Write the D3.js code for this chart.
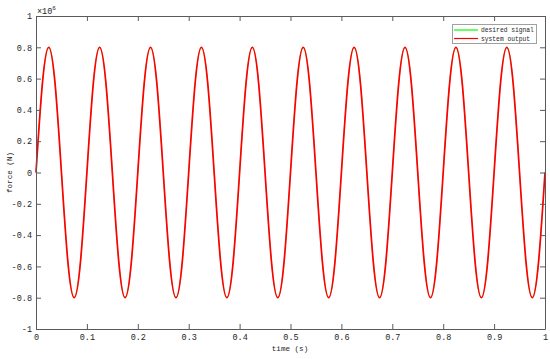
<!DOCTYPE html>
<html><head><meta charset="utf-8">
<script src="https://cdn.jsdelivr.net/npm/d3@7"></script>
<style>html,body{margin:0;padding:0;background:#fff;}svg{display:block;}</style>
</head><body><svg id="c" width="550" height="359"></svg>
<script>
// time samples (s)
const time = [0,0.0125,0.025,0.0375,0.05,0.0625,0.075,0.0875,0.1,0.1125,0.125,0.1375,0.15,0.1625,0.175,0.1875,0.2,0.2125,0.225,0.2375,0.25,0.2625,0.275,0.2875,0.3,0.3125,0.325,0.3375,0.35,0.3625,0.375,0.3875,0.4,0.4125,0.425,0.4375,0.45,0.4625,0.475,0.4875,0.5,0.5125,0.525,0.5375,0.55,0.5625,0.575,0.5875,0.6,0.6125,0.625,0.6375,0.65,0.6625,0.675,0.6875,0.7,0.7125,0.725,0.7375,0.75,0.7625,0.775,0.7875,0.8,0.8125,0.825,0.8375,0.85,0.8625,0.875,0.8875,0.9,0.9125,0.925,0.9375,0.95,0.9625,0.975,0.9875,1];
// force values (N)
const desiredSignal = [0,566000,800000,566000,0,-566000,-800000,-566000,0,566000,800000,566000,0,-566000,-800000,-566000,0,566000,800000,566000,0,-566000,-800000,-566000,0,566000,800000,566000,0,-566000,-800000,-566000,0,566000,800000,566000,0,-566000,-800000,-566000,0,566000,800000,566000,0,-566000,-800000,-566000,0,566000,800000,566000,0,-566000,-800000,-566000,0,566000,800000,566000,0,-566000,-800000,-566000,0,566000,800000,566000,0,-566000,-800000,-566000,0,566000,800000,566000,0,-566000,-800000,-566000,0];
const systemOutput = [0,566000,800000,566000,0,-566000,-800000,-566000,0,566000,800000,566000,0,-566000,-800000,-566000,0,566000,800000,566000,0,-566000,-800000,-566000,0,566000,800000,566000,0,-566000,-800000,-566000,0,566000,800000,566000,0,-566000,-800000,-566000,0,566000,800000,566000,0,-566000,-800000,-566000,0,566000,800000,566000,0,-566000,-800000,-566000,0,566000,800000,566000,0,-566000,-800000,-566000,0,566000,800000,566000,0,-566000,-800000,-566000,0,566000,800000,566000,0,-566000,-800000,-566000,0];
const xTicks = [0,0.1,0.2,0.3,0.4,0.5,0.6,0.7,0.8,0.9,1];
const xTickLabels = ["0","0.1","0.2","0.3","0.4","0.5","0.6","0.7","0.8","0.9","1"];
const yTicks = [-1e6,-0.8e6,-0.6e6,-0.4e6,-0.2e6,0,0.2e6,0.4e6,0.6e6,0.8e6,1e6];
const yTickLabels = ["-1","-0.8","-0.6","-0.4","-0.2","0","0.2","0.4","0.6","0.8","1"];
const seriesNames = ["desired signal","system output"];
const seriesColors = ["#00ff00","#ff0000"];

(function(){
const svg = d3.select("#c");
const L = 36, R = 545, T = 16, B = 329;
const x = d3.scaleLinear().domain([0,1]).range([L,R]);
const y = d3.scaleLinear().domain([-1e6,1e6]).range([B,T]);
const axisColor = "#5a5a5a";
const font = "'Liberation Mono', 'DejaVu Sans Mono', monospace";

const line = d3.line().x((d,i)=>x(time[i])).y(d=>y(d)).curve(d3.curveNatural);
const g = svg.append("g");
g.append("path").datum(desiredSignal).attr("d",line).attr("fill","none").attr("stroke",seriesColors[0]).attr("stroke-width",0.6);
g.append("path").datum(systemOutput).attr("d",line).attr("fill","none").attr("stroke",seriesColors[1]).attr("stroke-width",1.7);

const tl = 5;
const fmtX = (d,i)=>xTickLabels[i];
const fmtY = (d,i)=>yTickLabels[i];
const axB = svg.append("g").attr("transform",`translate(0,${B})`)
  .call(d3.axisBottom(x).tickValues(xTicks).tickFormat(fmtX).tickSizeInner(-tl).tickSizeOuter(0).tickPadding(5));
const axT = svg.append("g").attr("transform",`translate(0,${T})`)
  .call(d3.axisTop(x).tickValues(xTicks).tickFormat("").tickSizeInner(-tl).tickSizeOuter(0));
const axL = svg.append("g").attr("transform",`translate(${L},0)`)
  .call(d3.axisLeft(y).tickValues(yTicks).tickFormat(fmtY).tickSizeInner(-tl).tickSizeOuter(0).tickPadding(4));
const axR = svg.append("g").attr("transform",`translate(${R},0)`)
  .call(d3.axisRight(y).tickValues(yTicks).tickFormat("").tickSizeInner(-tl).tickSizeOuter(0));
[axB,axT,axL,axR].forEach(a=>{
  a.selectAll("path").attr("stroke",axisColor).attr("stroke-width",1);
  a.selectAll("line").attr("stroke",axisColor).attr("stroke-width",1);
  a.selectAll("text").attr("fill","#262626").style("font-family",font).style("font-size","8.5px");
});

const ex = svg.append("text").attr("x",L+1).attr("y",T-2).style("font-family",font).style("font-size","8.5px").attr("fill","#262626");
ex.append("tspan").text("×10");
ex.append("tspan").attr("dy",-4).style("font-size","6px").text("6");

svg.append("text").attr("x",290).attr("y",351).attr("text-anchor","middle")
  .style("font-family",font).style("font-size","7.6px").attr("fill","#262626").text("time (s)");
svg.append("text").attr("transform",`translate(12,${(T+B)/2}) rotate(-90)`).attr("text-anchor","middle")
  .style("font-family",font).style("font-size","7.6px").attr("fill","#262626").text("force (N)");

const lg = svg.append("g");
lg.append("rect").attr("x",452.5).attr("y",24.5).attr("width",84).attr("height",19).attr("fill","#fff").attr("stroke","#a0a0a0").attr("stroke-width",1);
seriesNames.forEach((n,i)=>{
  const yy = 30 + i*8.5;
  lg.append("line").attr("x1",454).attr("x2",478).attr("y1",yy).attr("y2",yy).attr("stroke",seriesColors[i]).attr("stroke-width",1.2);
  lg.append("text").attr("x",481).attr("y",yy+2.2).style("font-family",font).style("font-size","6.3px").attr("fill","#262626").text(n);
});
})();
</script></body></html>
